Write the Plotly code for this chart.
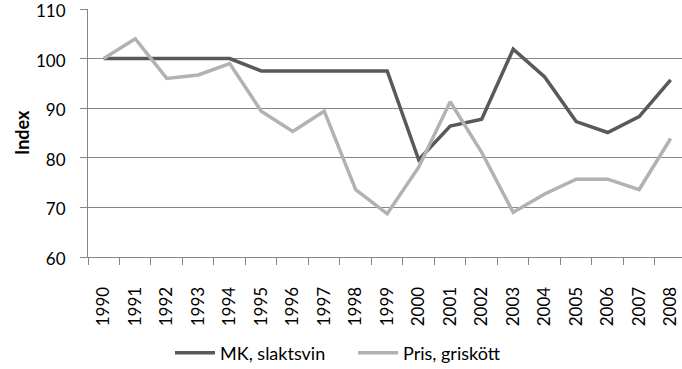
import plotly.graph_objects as go

years = [str(y) for y in range(1990, 2009)]
mk_slaktsvin = [100, 100, 100, 100, 100, 97.5, 97.5, 97.5, 97.5, 97.5,
                79.6, 86.4, 87.8, 101.9, 96.3, 87.3, 85.1, 88.3, 95.7]
pris_griskott = [100, 104, 96, 96.7, 99, 89.4, 85.3, 89.4, 73.6, 68.7,
                 78.1, 91.3, 81.1, 69, 72.7, 75.7, 75.7, 73.6, 83.9]
y_ticks = [60, 70, 80, 90, 100, 110]

FONT = "Lato"
GRID = "#868686"

fig = go.Figure()
fig.add_trace(go.Scatter(x=years, y=mk_slaktsvin, mode="lines", name="MK, slaktsvin",
                         line=dict(color="#595959", width=3.5)))
fig.add_trace(go.Scatter(x=years, y=pris_griskott, mode="lines", name="Pris, griskött",
                         line=dict(color="#b2b2b2", width=3.5)))

fig.update_layout(
    width=682, height=369,
    margin=dict(l=88, r=0, t=9, b=112),
    paper_bgcolor="white", plot_bgcolor="white",
    font=dict(family=FONT, size=17, color="#000000"),
    showlegend=True,
    legend=dict(orientation="h", xref="container", yref="container",
                x=170 / 682, xanchor="left", y=1 - 353 / 369, yanchor="middle",
                font=dict(family=FONT, size=18), itemwidth=40, tracegroupgap=0,
                entrywidth=128, bgcolor="rgba(0,0,0,0)"),
    xaxis=dict(type="category", range=[-0.5, 18.36], showgrid=False,
               showline=True, linecolor=GRID, linewidth=1,
               ticks="outside", ticklen=7, tickcolor=GRID, tickwidth=1,
               tickson="boundaries", tickangle=-90, ticklabelstandoff=22,
               ticklabeloverflow="allow",
               tickfont=dict(family=FONT, size=17), zeroline=False, automargin=False),
    yaxis=dict(range=[60, 110], tickvals=y_ticks, showgrid=True, gridcolor=GRID, gridwidth=1,
               showline=True, linecolor=GRID, linewidth=1,
               ticks="outside", ticklen=7, tickcolor=GRID,
               tickfont=dict(family=FONT, size=17), zeroline=False,
               ticklabelstandoff=11, ticklabelshift=2,
               ticklabeloverflow="allow", automargin=False),
    annotations=[dict(text="<b>Index</b>", textangle=-90, xref="paper", yref="paper",
                      x=(9 - 88) / 594, y=0.5, showarrow=False,
                      font=dict(family=FONT, size=18, color="#000000"))],
)

fig.write_html("out.html", config={"displayModeBar": False},
               post_script="document.body.style.margin='0';")
